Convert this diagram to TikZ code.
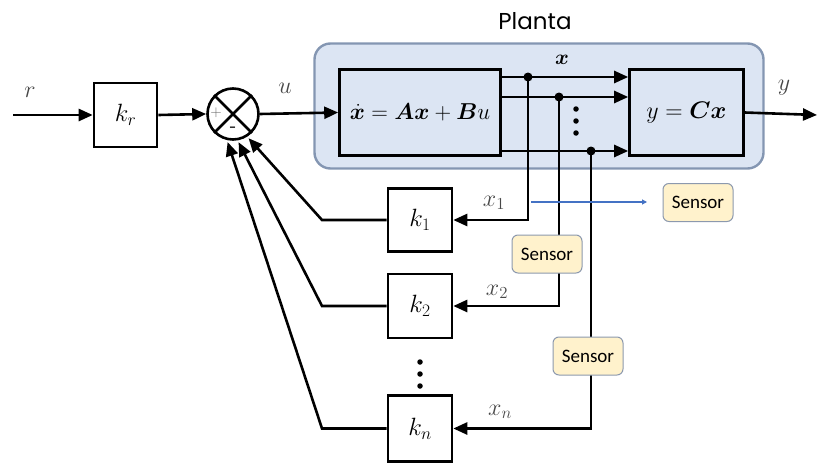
\RequirePackage{fix-cm}
\documentclass[tikz,border=0pt]{standalone}
\usepackage{amsmath}
\usepackage{bm}
\usepackage{fontspec}
\newfontfamily\sensorfont{Carlito}
\newfontfamily\plantfont{Poppins}
\usetikzlibrary{arrows.meta,calc}
\definecolor{plantfill}{HTML}{DCE5F3}
\definecolor{plantborder}{HTML}{8496B2}
\definecolor{sensorfill}{HTML}{FFF2CC}
\definecolor{sensorborder}{HTML}{8C99AE}
\definecolor{bluearrow}{HTML}{4472C4}
\begin{document}
\begin{tikzpicture}[x=1pt,y=-1pt,
  lw/.style={line width=2.6pt},
  blk/.style={draw,lw,minimum width=62pt,minimum height=62pt,inner sep=0pt,font=\fontsize{25}{28}\selectfont},
  arr/.style={lw,-{Triangle[length=14pt,width=12pt]}},
  lbl/.style={font=\fontsize{24}{26}\selectfont,text=black!72},
  sensor/.style={draw=sensorborder,line width=1pt,fill=sensorfill,rounded corners=6pt,minimum width=70pt,minimum height=38pt,inner sep=0pt,font=\sensorfont\fontsize{19}{22}\selectfont},
  jdot/.style={circle,fill=black,inner sep=0pt,minimum size=9pt},
  sdot/.style={circle,fill=black,inner sep=0pt,minimum size=5.5pt}
]
\useasboundingbox (0,0) rectangle (817,471);
% plant
\node[draw=plantborder,line width=2.4pt,fill=plantfill,rounded corners=16pt,minimum width=449pt,minimum height=125pt,inner sep=0pt] (plant) at (539,106) {};
\node[font=\plantfont\fontsize{23}{26}\selectfont] (plantlbl) at (535,21) {Planta};
\node[blk,minimum width=161pt,minimum height=86pt,font=\fontsize{23}{26}\selectfont] (state) at (420,112.5) {$\dot{\bm x} = \bm{A}\bm{x} + \bm{B}u$};
\node[blk,minimum width=114pt,minimum height=86pt,font=\fontsize{24}{28}\selectfont] (out) at (686.5,112.5) {$y = \bm{C}\bm{x}$};
% blocks
\node[blk,minimum width=63pt,minimum height=64pt] (kr) at (125.5,115) {$k_r$};
\node[draw,lw,circle,minimum size=51pt,inner sep=0pt] (sum) at (233,114) {};
\draw[lw] (sum.45) -- (sum.225) (sum.135) -- (sum.315);
\node[font=\fontsize{15}{15}\selectfont,text=black!60] (plus) at (216,113) {$+$};
\node[font=\bfseries\fontsize{17}{17}\selectfont,text=black!80] (minus) at (233,129) {-};
\node[blk,minimum width=64pt,minimum height=63pt] (k1) at (420,220) {$k_1$};
\node[blk,minimum width=64pt,minimum height=64pt] (k2) at (420,306) {$k_2$};
\node[blk,minimum width=64pt,minimum height=66pt] (kn) at (420,428.5) {$k_n$};
% coordinates
\coordinate (rin) at (13,115);
\coordinate (yout) at (817,115);
\coordinate (j1) at (528,77);
\coordinate (j2) at (559,97);
\coordinate (j3) at (591,151);
\coordinate (c1) at (322,220);
\coordinate (c2) at (322,306);
\coordinate (cn) at (322,428.5);
% forward path
\draw[arr] (rin) -- (kr.west);
\draw[arr] (kr.east) -- (sum.west);
\draw[arr] (sum.east) -- (state.west);
\draw[arr] (out.east) -- (yout);
\draw[arr] (state.east |- j1) -- (out.west |- j1);
\draw[arr] (state.east |- j2) -- (out.west |- j2);
\draw[arr] (state.east |- j3) -- (out.west |- j3);
\node[jdot] (d1) at (j1) {};
\node[jdot] (d2) at (j2) {};
\node[jdot] (d3) at (j3) {};
\node[sdot] (v1) at (576,109) {};
\node[sdot] (v2) at (576,121) {};
\node[sdot] (v3) at (576,133) {};
% feedback
\draw[arr] (j1) |- (k1.east);
\draw[arr] (j2) |- (k2.east);
\draw[arr] (j3) |- (kn.east);
\draw[arr,shorten >=2pt] (k1.west) -- (c1) -- (sum.-58);
\draw[arr,shorten >=2pt] (k2.west) -- (c2) -- (sum.-80);
\draw[arr,shorten >=2pt] (kn.west) -- (cn) -- (sum.-103);
\node[sdot] (w1) at (420,362) {};
\node[sdot] (w2) at (420,374) {};
\node[sdot] (w3) at (420,386) {};
% labels
\node[lbl] (lr) at (30,92) {$r$};
\node[lbl] (lu) at (285,88) {$u$};
\node[lbl] (ly) at (784,88) {$y$};
\node[font=\fontsize{21}{22}\selectfont] (lx) at (562,60) {$\bm{x}$};
\node[lbl] (lx1) at (494,203) {$x_1$};
\node[lbl] (lx2) at (497,292) {$x_2$};
\node[lbl] (lxn) at (500,412) {$x_n$};
% sensors
\node[sensor] (s1) at (547,254) {Sensor};
\node[sensor] (s2) at (588,356) {Sensor};
\node[sensor] (s3) at (698,202.5) {Sensor};
\coordinate (b1) at (531,202);
\coordinate (b2) at (647,202);
\draw[bluearrow,line width=1.1pt,-{Triangle[length=5pt,width=5pt]}] (b1) -- (b2);
\end{tikzpicture}
\end{document}
